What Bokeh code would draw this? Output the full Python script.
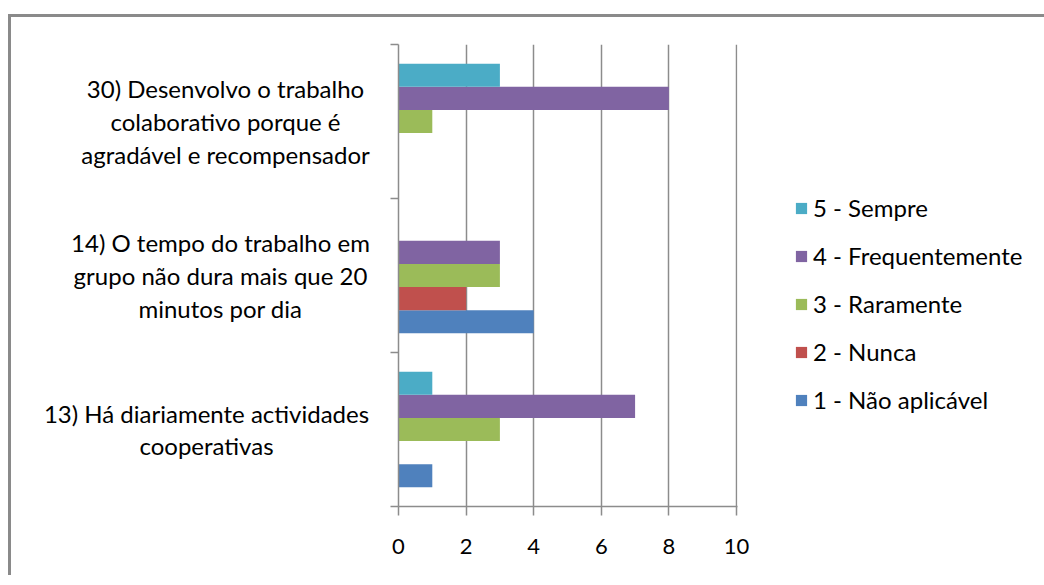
from bokeh.plotting import figure
from bokeh.layouts import row
from bokeh.models import (ColumnDataSource, Range1d, FixedTicker, Legend, LegendItem)
from bokeh.core.properties import value
from bokeh.transform import dodge
from bokeh.embed import file_html
from bokeh.resources import INLINE

# ---- data ----
questions = [
    "13) Há diariamente actividades\ncooperativas",
    "14) O tempo do trabalho em\ngrupo não dura mais que 20\nminutos por dia",
    "30) Desenvolvo o trabalho\ncolaborativo porque é\nagradável e recompensador",
]
series_names = ["1 - Não aplicável", "2 - Nunca", "3 - Raramente",
                "4 - Frequentemente", "5 - Sempre"]
nao_aplicavel = [1, 4, 0]
nunca = [0, 2, 0]
raramente = [3, 3, 1]
frequentemente = [7, 3, 8]
sempre = [1, 0, 3]
colors = ["#4F81BD", "#C0504D", "#9BBB59", "#8064A2", "#4BACC6"]
x_ticks = [0, 2, 4, 6, 8, 10]

series_values = [nao_aplicavel, nunca, raramente, frequentemente, sempre]

centers = [i + 0.5 for i in range(len(questions))]
data = {"y": centers, "q": questions, "lx": [195, 209, 214]}
for k, vals in enumerate(series_values):
    data[f"s{k}"] = vals
src = ColumnDataSource(data)

FONT = "Lato"
TOP, BOTTOM, FH = 27, 69, 462
GRAY = "#8c8c8c"

y_range = Range1d(0, 3)

# ---- main chart ----
p = figure(frame_width=339, frame_height=FH, output_backend="svg", toolbar_location=None,
           x_range=Range1d(0, 10.03), y_range=y_range,
           min_border_left=10, min_border_top=TOP, min_border_bottom=BOTTOM,
           min_border_right=0)
p.outline_line_color = None
p.background_fill_color = "white"
p.border_fill_color = "white"

bar_h = 0.15
renderers = []
for k in range(5):
    off = (k - 2) * bar_h
    r = p.hbar(y=dodge("y", off), left=0, right=f"s{k}", height=bar_h, source=src,
               fill_color=colors[k], line_color=None)
    renderers.append(r)

p.xaxis.ticker = FixedTicker(ticks=x_ticks)
p.xaxis.axis_line_color = GRAY
p.xaxis.axis_line_width = 1.5
p.xaxis.major_tick_line_color = GRAY
p.xaxis.major_tick_line_width = 1.5
p.xaxis.major_tick_out = 9
p.xaxis.major_tick_in = 0
p.xaxis.minor_tick_line_color = None
p.xaxis.major_label_standoff = 23
p.xaxis.major_label_text_font = FONT
p.xaxis.major_label_text_font_size = "22px"
p.xaxis.major_label_text_color = "black"

p.xgrid.ticker = FixedTicker(ticks=x_ticks)
p.xgrid.grid_line_color = GRAY
p.xgrid.grid_line_width = 1.5
p.ygrid.grid_line_color = None

p.yaxis.ticker = FixedTicker(ticks=[], minor_ticks=[0, 1, 2, 3])
p.yaxis.axis_line_color = GRAY
p.yaxis.axis_line_width = 1.5
p.yaxis.major_tick_out = 0
p.yaxis.major_tick_in = 0
p.yaxis.minor_tick_out = 8
p.yaxis.minor_tick_in = 0
p.yaxis.minor_tick_line_color = GRAY
p.yaxis.minor_tick_line_width = 1.5
p.yaxis.major_label_standoff = 0

items = [LegendItem(label=series_names[k], renderers=[renderers[k]]) for k in range(4, -1, -1)]
legend = Legend(items=items, location=(57, 92), padding=0, margin=0,
                border_line_color=None, background_fill_alpha=0,
                label_text_font=FONT, label_text_font_size="24px",
                label_text_color="black", glyph_width=14, glyph_height=14,
                label_standoff=5, spacing=19, label_height=28)
p.add_layout(legend, "right")

# ---- category labels (share the y scale of the chart) ----
lab = figure(width=377, frame_height=FH, output_backend="svg", toolbar_location=None,
             x_range=Range1d(0, 377), y_range=y_range,
             x_axis_location=None, y_axis_location=None,
             min_border_left=0, min_border_right=0, min_border_top=TOP,
             min_border_bottom=BOTTOM)
lab.outline_line_color = None
lab.xgrid.visible = False
lab.ygrid.visible = False
lab.text(x="lx", y="y", text="q", source=src, text_align="center",
         text_baseline="middle", text_font=value(FONT), text_font_size="24px",
         text_color="black", text_line_height=1.13)

layout = row(lab, p, margin=(14, 0, 0, 8),
             styles={"border-top": "3px solid #8a8a8a", "border-left": "3px solid #8a8a8a"})

open("out.html", "w").write(file_html(layout, INLINE))
